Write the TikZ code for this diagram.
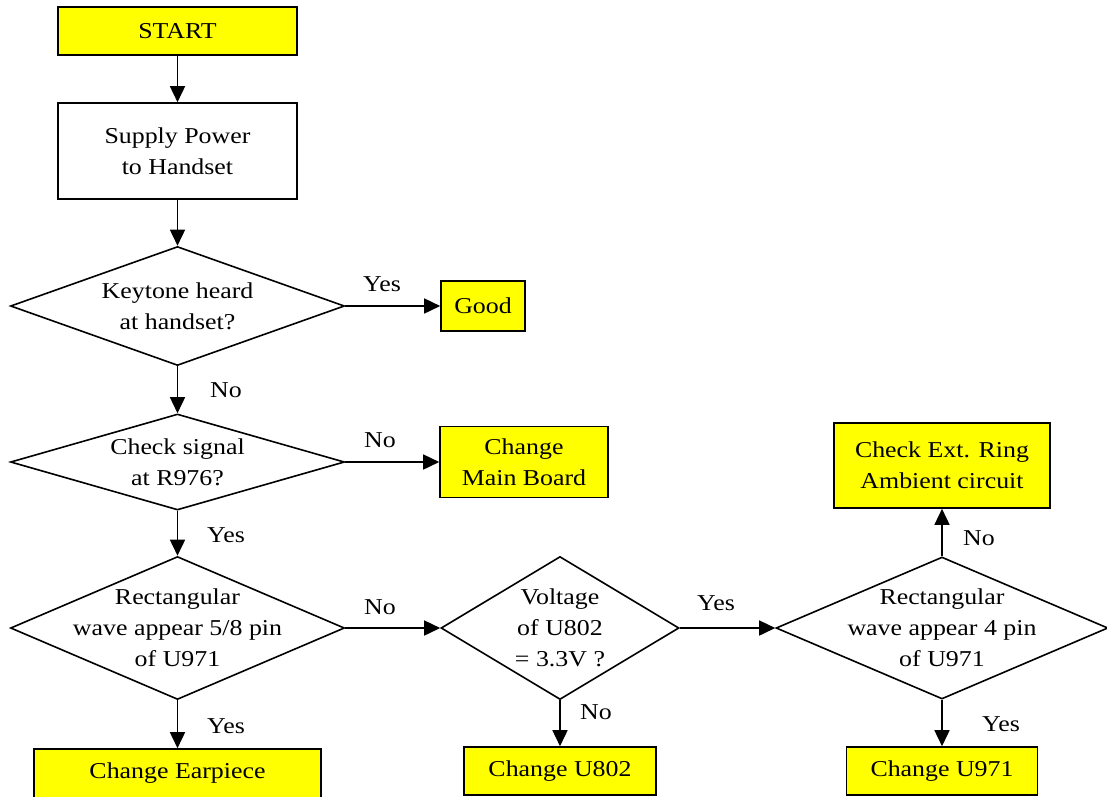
\documentclass[tikz,border=0pt]{standalone}
\usepackage{fontspec}
\setmainfont{Liberation Serif}[FakeStretch=1.14]
\usetikzlibrary{shapes.geometric,arrows.meta}
\definecolor{boxyellow}{RGB}{255,255,0}
\begin{document}
\begin{tikzpicture}[x=1pt,y=-1pt,
  every node/.style={font=\fontsize{22.7}{31}\selectfont},
  procbox/.style={draw, line width=1.6pt, inner sep=0pt, align=center, fill=white},
  endbox/.style={procbox, fill=boxyellow},
  decision/.style={draw, diamond, line width=1.6pt, inner sep=0pt, aspect=1},
  flow/.style={draw, line width=1.6pt, -{Triangle[length=16pt,width=15pt]}},
  answer/.style={inner sep=0pt}
]
\useasboundingbox (0,0) rectangle (1107,796);

% main column
\node[endbox, minimum width=239pt, minimum height=48pt] (start) at (177.5,31) {START};
\node[procbox, minimum width=239pt, minimum height=96pt] (supply) at (177.5,151) {Supply Power\\to Handset};

\node[decision, minimum width=334pt, minimum height=119pt] (keytone) at (177.5,306) {};
\node[align=center] (keytonetext) at (keytone) {Keytone heard\\at handset?};

\node[endbox, minimum width=84pt, minimum height=50pt] (good) at (483,306) {Good};

\node[decision, minimum width=334pt, minimum height=96pt] (signal) at (177.5,462) {};
\node[align=center] (signaltext) at (signal) {Check signal\\at R976?};

\node[endbox, minimum width=168pt, minimum height=71pt] (mainboard) at (524,462) {Change\\Main Board};

\node[decision, minimum width=334pt, minimum height=143pt] (wave58) at (177.5,628) {};
\node[align=center] (wave58text) at (wave58) {Rectangular\\wave appear 5/8 pin\\of U971};

% lower edge of this box runs past the bottom of the page
\node[endbox, minimum width=287pt, minimum height=56pt, text depth=0pt] (earpiece) at (177.5,777) {};
\node (earpiecetext) at (177.5,773) {Change Earpiece};

% voltage branch
\node[decision, minimum width=238pt, minimum height=143pt] (voltage) at (560,628) {};
\node[align=center] (voltagetext) at (voltage) {Voltage\\of U802\\= 3.3V ?};

\node[endbox, minimum width=192pt, minimum height=48pt] (u802) at (560,771) {Change U802};

% pin 4 branch
\node[decision, minimum width=332pt, minimum height=142pt] (wave4) at (942,628) {};
\node[align=center] (wave4text) at (wave4) {Rectangular\\wave appear 4 pin\\of U971};

\node[endbox, minimum width=216pt, minimum height=85pt] (ringcheck) at (942,465.5) {Check Ext. Ring\\Ambient circuit};
\node[endbox, minimum width=191pt, minimum height=48pt] (u971) at (942,771) {Change U971};

% connectors
\draw[flow] (start) -- (supply);
\draw[flow] (supply) -- (keytone.north);
\draw[flow] (keytone.east) -- (good);
\draw[flow] (keytone.south) -- (signal.north);
\draw[flow] (signal.east) -- (mainboard);
\draw[flow] (signal.south) -- (wave58.north);
\draw[flow] (wave58.south) -- (earpiece);
\draw[flow] (wave58.east) -- (voltage.west);
\draw[flow] (voltage.south) -- (u802);
\draw[flow] (voltage.east) -- (wave4.west);
\draw[flow] (wave4.north) -- (ringcheck);
\draw[flow] (wave4.south) -- (u971);

% answer labels
\node[answer] (l1) at (382,284) {Yes};
\node[answer] (l2) at (226,390) {No};
\node[answer] (l3) at (380,440) {No};
\node[answer] (l4) at (226,535) {Yes};
\node[answer] (l5) at (380,607) {No};
\node[answer] (l6) at (226,726) {Yes};
\node[answer] (l7) at (716,603) {Yes};
\node[answer] (l8) at (596,712) {No};
\node[answer] (l9) at (979,538) {No};
\node[answer] (l10) at (1001,724) {Yes};
\end{tikzpicture}
\end{document}
